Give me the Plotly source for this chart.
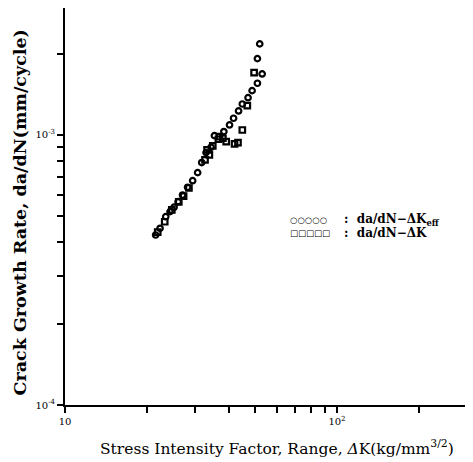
import plotly.graph_objects as go

# Delta K_eff series (circles)
dk_eff = [21.54, 22.36, 23.46, 24.34, 25.18, 26.05, 27.05, 28.23, 29.47, 30.74,
          31.81, 33.00, 34.44, 35.43, 38.38, 40.26, 41.66, 43.47, 44.87, 47.10,
          48.74, 50.98, 53.07, 50.98, 51.99]
rate_eff = [4.26e-4, 4.51e-4, 4.98e-4, 5.20e-4, 5.40e-4, 5.66e-4, 5.99e-4, 6.40e-4, 6.77e-4, 7.25e-4,
            7.90e-4, 8.60e-4, 9.00e-4, 9.94e-4, 1.029e-3, 1.089e-3, 1.153e-3, 1.227e-3, 1.302e-3, 1.374e-3,
            1.459e-3, 1.554e-3, 1.682e-3, 1.917e-3, 2.173e-3]

# Delta K series (squares)
dk = [21.92, 23.26, 24.70, 26.20, 27.29, 28.55, 32.72, 33.95, 33.29, 34.94,
      36.65, 36.97, 38.06, 39.14, 42.01, 43.25, 44.87, 46.81, 49.57]
rate = [4.37e-4, 4.77e-4, 5.28e-4, 5.65e-4, 5.94e-4, 6.36e-4, 8.08e-4, 8.43e-4, 8.80e-4, 9.11e-4,
        9.64e-4, 9.86e-4, 9.72e-4, 9.45e-4, 9.26e-4, 9.37e-4, 1.043e-3, 1.284e-3, 1.701e-3]

x_ticks = [10, 20, 30, 40, 50, 60, 70, 80, 90, 100, 200, 300]
x_ticktext = ["10", "", "", "", "", "", "", "", "", "10<sup>2</sup>", "", ""]
y_ticks = [1e-4, 2e-4, 3e-4, 4e-4, 5e-4, 6e-4, 7e-4, 8e-4, 9e-4, 1e-3, 2e-3, 3e-3]
y_ticktext = ["10<sup>-4</sup>", "", "", "", "", "", "", "", "", "10<sup>-3</sup>", "", ""]

legend_labels = ["da/dN−ΔK<sub>eff</sub>", "da/dN−ΔK"]
legend_marks = ["○○○○○", "□□□□□"]

FONT = "DejaVu Serif"

fig = go.Figure()
fig.add_trace(go.Scatter(x=dk_eff, y=rate_eff, mode="markers",
                         marker=dict(symbol="circle-open", size=5.5, color="black",
                                     line=dict(width=2.2, color="black")),
                         showlegend=False))
fig.add_trace(go.Scatter(x=dk, y=rate, mode="markers",
                         marker=dict(symbol="square-open", size=5.5, color="black",
                                     line=dict(width=2.2, color="black")),
                         showlegend=False))

for i, (mk, lab) in enumerate(zip(legend_marks, legend_labels)):
    yy = 0.465 - i * 0.033
    fig.add_annotation(xref="paper", yref="paper", x=0.555, y=yy, xanchor="left", yanchor="middle",
                       text="<b>" + mk + "</b>", showarrow=False,
                       font=dict(family="DejaVu Sans", size=8.5, color="black"))
    fig.add_annotation(xref="paper", yref="paper", x=0.69, y=yy, xanchor="left", yanchor="middle",
                       text="<b>:  " + lab + "</b>", showarrow=False,
                       font=dict(family=FONT, size=12, color="black"))

fig.add_annotation(xref="paper", yref="paper", x=0.527, y=-0.108, xanchor="center", yanchor="middle",
                   text="Stress Intensity Factor, Range, <i>Δ</i>K(kg/mm<sup>3/2</sup>)",
                   showarrow=False, font=dict(family=FONT, size=15.5, color="black"))

fig.add_annotation(xref="paper", yref="paper", x=-0.112, y=0.485, xanchor="center", yanchor="middle",
                   textangle=-90, text="<b>Crack Growth Rate, da/dN(mm/cycle)</b>",
                   showarrow=False, font=dict(family=FONT, size=17.5, color="black"))

fig.update_layout(
    width=465, height=454,
    margin=dict(l=57, r=6, t=0, b=57),
    paper_bgcolor="white", plot_bgcolor="white",
    font=dict(family=FONT, color="black"),
    xaxis=dict(type="log", range=[1, 2.478], tickvals=x_ticks, ticktext=x_ticktext,
               ticks="outside", ticklen=6, tickwidth=1.5, tickcolor="black",
               showline=True, linewidth=2, linecolor="black", showgrid=False, zeroline=False,
               automargin=False,
               tickfont=dict(family=FONT, size=10, color="black")),
    yaxis=dict(type="log", range=[-4, -2.530], tickvals=y_ticks, ticktext=y_ticktext,
               ticks="outside", ticklen=6, tickwidth=1.5, tickcolor="black",
               showline=True, linewidth=2, linecolor="black", showgrid=False, zeroline=False,
               automargin=False,
               tickfont=dict(family=FONT, size=10, color="black")),
)

fig.write_html("out.html")
